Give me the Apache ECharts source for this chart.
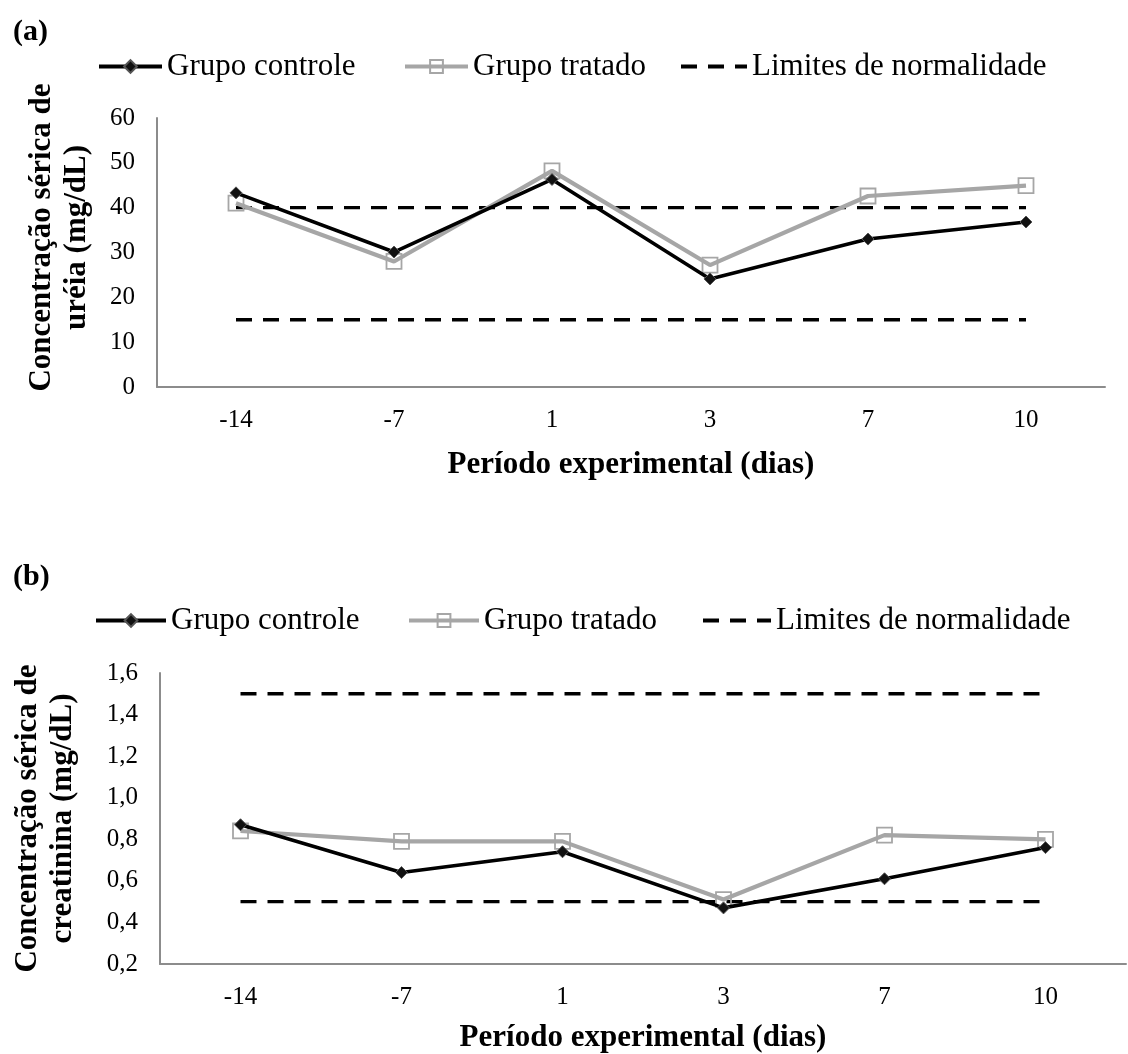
<!DOCTYPE html>
<html>
<head>
<meta charset="utf-8">
<script src="https://cdn.jsdelivr.net/npm/echarts@6/dist/echarts.min.js"></script>
<style>
  html, body { margin: 0; padding: 0; background: #fff; }
  #chart { width: 1128px; height: 1054px; }
</style>
</head>
<body>
<div id="chart"></div>
<script>
// dias do período experimental
const dias = ['-14', '-7', '1', '3', '7', '10'];

// (a) ureia (mg/dL)
const ureiaControle = [43.3, 30.1, 46.3, 24.1, 33.0, 36.8];
const ureiaTratado = [41.0, 28.0, 48.2, 27.2, 42.6, 44.9];
const ureiaLimSup = [40, 40, 40, 40, 40, 40];
const ureiaLimInf = [15, 15, 15, 15, 15, 15];

// (b) creatinina (mg/dL)
const creatControle = [0.87, 0.64, 0.74, 0.47, 0.61, 0.76];
const creatTratado = [0.84, 0.79, 0.79, 0.51, 0.82, 0.80];
const creatLimSup = [1.5, 1.5, 1.5, 1.5, 1.5, 1.5];
const creatLimInf = [0.5, 0.5, 0.5, 0.5, 0.5, 0.5];

const FONT = '"Liberation Serif", "Times New Roman", serif';

const chart = echarts.init(document.getElementById('chart'));

function controle(data, idx) {
  return {
    name: 'Grupo controle', type: 'line', xAxisIndex: idx, yAxisIndex: idx,
    data: data, symbol: 'diamond', symbolSize: 12, z: 4,
    lineStyle: { color: '#000', width: 3.6 },
    itemStyle: { color: '#111', borderColor: '#555', borderWidth: 1 }
  };
}
function tratado(data, idx) {
  return {
    name: 'Grupo tratado', type: 'line', xAxisIndex: idx, yAxisIndex: idx,
    data: data, symbol: 'rect', symbolSize: 15, z: 3,
    lineStyle: { color: '#a6a6a6', width: 4.2 },
    itemStyle: { color: 'rgba(255,255,255,0)', borderColor: '#a6a6a6', borderWidth: 1.8 }
  };
}
function limite(data, idx) {
  return {
    name: 'Limites de normalidade', type: 'line', xAxisIndex: idx, yAxisIndex: idx,
    data: data, symbol: 'none', z: 2,
    lineStyle: { color: '#000', width: 3.4, type: [16, 11] },
    itemStyle: { color: '#000', opacity: 0 }
  };
}
function leg(name, left, top, w) {
  return {
    data: [name], left: left, top: top, itemWidth: w, itemHeight: 16,
    lineStyle: { width: 4 },
    textStyle: { fontFamily: FONT, fontSize: 31, color: '#000' }
  };
}
const xAx = (idx, gap) => ({
  type: 'category', gridIndex: idx, data: dias,
  name: 'Período experimental (dias)', nameLocation: 'middle', nameGap: gap,
  nameTextStyle: { fontFamily: FONT, fontSize: 31, fontWeight: 'bold', color: '#000' },
  axisLine: { lineStyle: { color: '#8c8c8c', width: 2 } },
  axisTick: { show: false },
  axisLabel: { fontFamily: FONT, fontSize: 25, color: '#000', margin: 21 }
});
const yName = {
  fontFamily: FONT, fontSize: 31, fontWeight: 'bold', color: '#000', lineHeight: 35
};

const option = {
  backgroundColor: '#fff',
  animation: false,
  title: [
    { text: '(a)', left: 8, top: 12, textStyle: { fontFamily: FONT, fontSize: 30, fontWeight: 'bold', color: '#000' } },
    { text: '(b)', left: 8, top: 557, textStyle: { fontFamily: FONT, fontSize: 30, fontWeight: 'bold', color: '#000' } }
  ],
  legend: [
    leg('Grupo controle', 92, 46, 63),
    leg('Grupo tratado', 398, 46, 63),
    leg('Limites de normalidade', 674, 46, 66),
    leg('Grupo controle', 89, 600, 70),
    leg('Grupo tratado', 402, 600, 70),
    leg('Limites de normalidade', 696, 600, 68)
  ],
  grid: [
    { left: 157, top: 118, width: 948, height: 269 },
    { left: 160, top: 673, width: 966, height: 291 }
  ],
  xAxis: [xAx(0, 62), xAx(1, 58)],
  yAxis: [
    {
      type: 'value', gridIndex: 0, min: 0, max: 60, interval: 10,
      name: 'Concentração sérica de\nuréia (mg/dL)', nameLocation: 'middle', nameGap: 63,
      nameTextStyle: Object.assign({ padding: [0, 0, 0, 30] }, yName),
      axisLine: { show: true, lineStyle: { color: '#8c8c8c', width: 2 } },
      axisTick: { show: false }, splitLine: { show: false },
      axisLabel: { fontFamily: FONT, fontSize: 25, color: '#000', margin: 22 }
    },
    {
      type: 'value', gridIndex: 1, min: 0.2, max: 1.6, interval: 0.2,
      name: 'Concentração sérica de\ncreatinina (mg/dL)', nameLocation: 'middle', nameGap: 80,
      nameTextStyle: yName,
      axisLine: { show: true, lineStyle: { color: '#8c8c8c', width: 2 } },
      axisTick: { show: false }, splitLine: { show: false },
      axisLabel: {
        fontFamily: FONT, fontSize: 25, color: '#000', margin: 22,
        formatter: v => v.toFixed(1).replace('.', ',')
      }
    }
  ],
  series: [
    limite(ureiaLimSup, 0),
    limite(ureiaLimInf, 0),
    tratado(ureiaTratado, 0),
    controle(ureiaControle, 0),
    limite(creatLimSup, 1),
    limite(creatLimInf, 1),
    tratado(creatTratado, 1),
    controle(creatControle, 1)
  ]
};

chart.setOption(option);
</script>
</body>
</html>
